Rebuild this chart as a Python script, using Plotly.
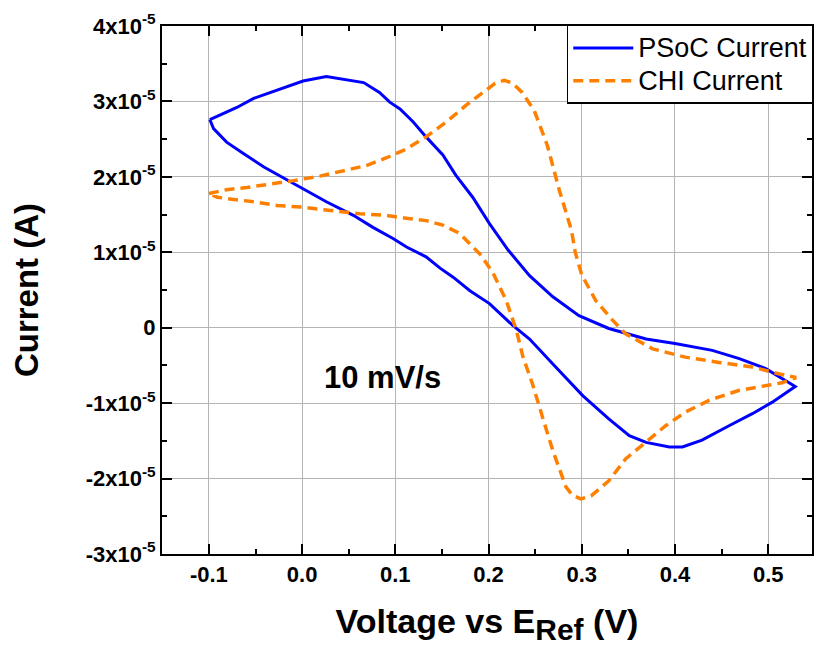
import plotly.graph_objects as go

# ---------------- data (current in units of 1e-5 A) ----------------
psoc_voltage = [-0.099, -0.085, -0.070, -0.052, -0.034, -0.016, 0.001, 0.026, 0.048, 0.066,
                0.083, 0.094, 0.105, 0.119, 0.133, 0.151, 0.165, 0.183, 0.201, 0.221,
                0.244, 0.269, 0.297, 0.329, 0.369, 0.400, 0.440, 0.469, 0.497, 0.529,
                0.504, 0.483, 0.458, 0.429, 0.408, 0.394, 0.369, 0.351, 0.329, 0.301,
                0.269, 0.244, 0.226, 0.201, 0.180, 0.162, 0.148, 0.133, 0.112, 0.098,
                0.076, 0.055, 0.026, 0.001, -0.020, -0.041, -0.063, -0.081, -0.095, -0.099]
psoc_current_e5 = [2.76, 2.84, 2.92, 3.04, 3.12, 3.20, 3.27, 3.33, 3.29, 3.25,
                   3.12, 2.99, 2.90, 2.73, 2.53, 2.29, 2.02, 1.73, 1.38, 1.03,
                   0.69, 0.41, 0.16, -0.01, -0.15, -0.21, -0.30, -0.41, -0.54, -0.78,
                   -0.99, -1.14, -1.30, -1.49, -1.58, -1.58, -1.52, -1.43, -1.21, -0.90,
                   -0.48, -0.15, 0.03, 0.32, 0.49, 0.67, 0.79, 0.94, 1.07, 1.18,
                   1.33, 1.49, 1.67, 1.84, 1.98, 2.13, 2.31, 2.46, 2.64, 2.76]

chi_voltage = [-0.100, -0.081, -0.059, -0.034, -0.009, 0.019, 0.048, 0.069, 0.090, 0.112,
               0.133, 0.155, 0.176, 0.194, 0.207, 0.217, 0.226, 0.236, 0.249, 0.263,
               0.276, 0.289, 0.293, 0.300, 0.315, 0.333, 0.347, 0.376, 0.411, 0.447,
               0.483, 0.511, 0.530,
               0.515, 0.497, 0.469, 0.437, 0.411, 0.390, 0.369, 0.347, 0.329, 0.310,
               0.299, 0.290, 0.283, 0.269, 0.258, 0.247, 0.237, 0.230, 0.219, 0.205,
               0.192, 0.183, 0.169, 0.151, 0.133, 0.112, 0.090, 0.062, 0.041, 0.019,
               -0.002, -0.027, -0.052, -0.073, -0.091, -0.100]
chi_current_e5 = [1.78, 1.83, 1.86, 1.90, 1.95, 2.01, 2.09, 2.15, 2.25, 2.37,
                  2.53, 2.73, 2.95, 3.12, 3.24, 3.28, 3.24, 3.12, 2.88, 2.42,
                  1.82, 1.29, 1.00, 0.70, 0.36, 0.10, -0.08, -0.28, -0.39, -0.46,
                  -0.52, -0.61, -0.66,
                  -0.73, -0.77, -0.83, -0.96, -1.12, -1.30, -1.52, -1.74, -2.03, -2.23,
                  -2.27, -2.22, -2.11, -1.63, -1.19, -0.74, -0.39, -0.04, 0.36, 0.72,
                  0.96, 1.07, 1.25, 1.36, 1.42, 1.45, 1.49, 1.51, 1.54, 1.57,
                  1.60, 1.62, 1.67, 1.70, 1.73, 1.78]

psoc_current = [v * 1e-5 for v in psoc_current_e5]
chi_current = [v * 1e-5 for v in chi_current_e5]

series_names = ["PSoC Current", "CHI Current"]

x_tick_vals = [-0.1, 0.0, 0.1, 0.2, 0.3, 0.4, 0.5]
x_tick_text = ["-0.1", "0.0", "0.1", "0.2", "0.3", "0.4", "0.5"]
y_tick_vals = [-3e-5, -2e-5, -1e-5, 0, 1e-5, 2e-5, 3e-5, 4e-5]
y_tick_text = ["-3x10<sup>-5</sup>", "-2x10<sup>-5</sup>", "-1x10<sup>-5</sup>", "0",
               "1x10<sup>-5</sup>", "2x10<sup>-5</sup>", "3x10<sup>-5</sup>", "4x10<sup>-5</sup>"]

FONT = "Liberation Sans, Arial, sans-serif"

def legend_label(s):
    return "<span style='font-size:27px'>" + s + "</span>"

fig = go.Figure()
fig.add_trace(go.Scatter(x=psoc_voltage, y=psoc_current, mode="lines",
                         name=legend_label(series_names[0]),
                         line=dict(color="#0000FF", width=3)))
fig.add_trace(go.Scatter(x=chi_voltage, y=chi_current, mode="lines",
                         name=legend_label(series_names[1]),
                         line=dict(color="#FF8000", width=3.5, dash="10px,6px")))

fig.add_annotation(x=0.0214, y=-0.66e-5, xref="x", yref="y", text="<b>10 mV/s</b>",
                   showarrow=False, xanchor="left", yanchor="middle",
                   font=dict(family=FONT, size=31, color="black"))

axis_common = dict(
    showline=True, linecolor="black", linewidth=2, mirror="allticks",
    ticks="inside", ticklen=10, tickwidth=2, tickcolor="black",
    showgrid=True, gridcolor="#B4B4B4", gridwidth=1, zeroline=False,
    tickfont=dict(family=FONT, size=22, color="black", weight="bold"),
)

fig.update_layout(
    width=814, height=646,
    margin=dict(l=162, r=0, t=26, b=92),
    paper_bgcolor="white", plot_bgcolor="white",
    font=dict(family=FONT, color="black"),
    xaxis=dict(range=[-0.1503, 0.5470], tickvals=x_tick_vals, ticktext=x_tick_text,
               minor=dict(ticks="inside", ticklen=5, tickwidth=2, tickcolor="black",
                          dtick=0.05, tick0=0, showgrid=False),
               title=dict(text="Voltage vs E<sub><span style='font-size:30px'>Ref</span></sub> (V)",
                          standoff=31,
                          font=dict(family=FONT, size=34, weight="bold", color="black")),
               **axis_common),
    yaxis=dict(range=[-3e-5, 4e-5], tickvals=y_tick_vals, ticktext=y_tick_text,
               minor=dict(ticks="inside", ticklen=5, tickwidth=2, tickcolor="black",
                          dtick=0.5e-5, tick0=0, showgrid=False),
               title=dict(text="Current (A)", standoff=37,
                          font=dict(family=FONT, size=33, weight="bold", color="black")),
               **axis_common),
    legend=dict(x=0.6227, y=1.002, xanchor="left", yanchor="top",
                bgcolor="white", bordercolor="black", borderwidth=1.5,
                font=dict(family=FONT, size=23, color="black"),
                itemwidth=60, tracegroupgap=0),
    showlegend=True,
)

fig.write_html("out.html")
